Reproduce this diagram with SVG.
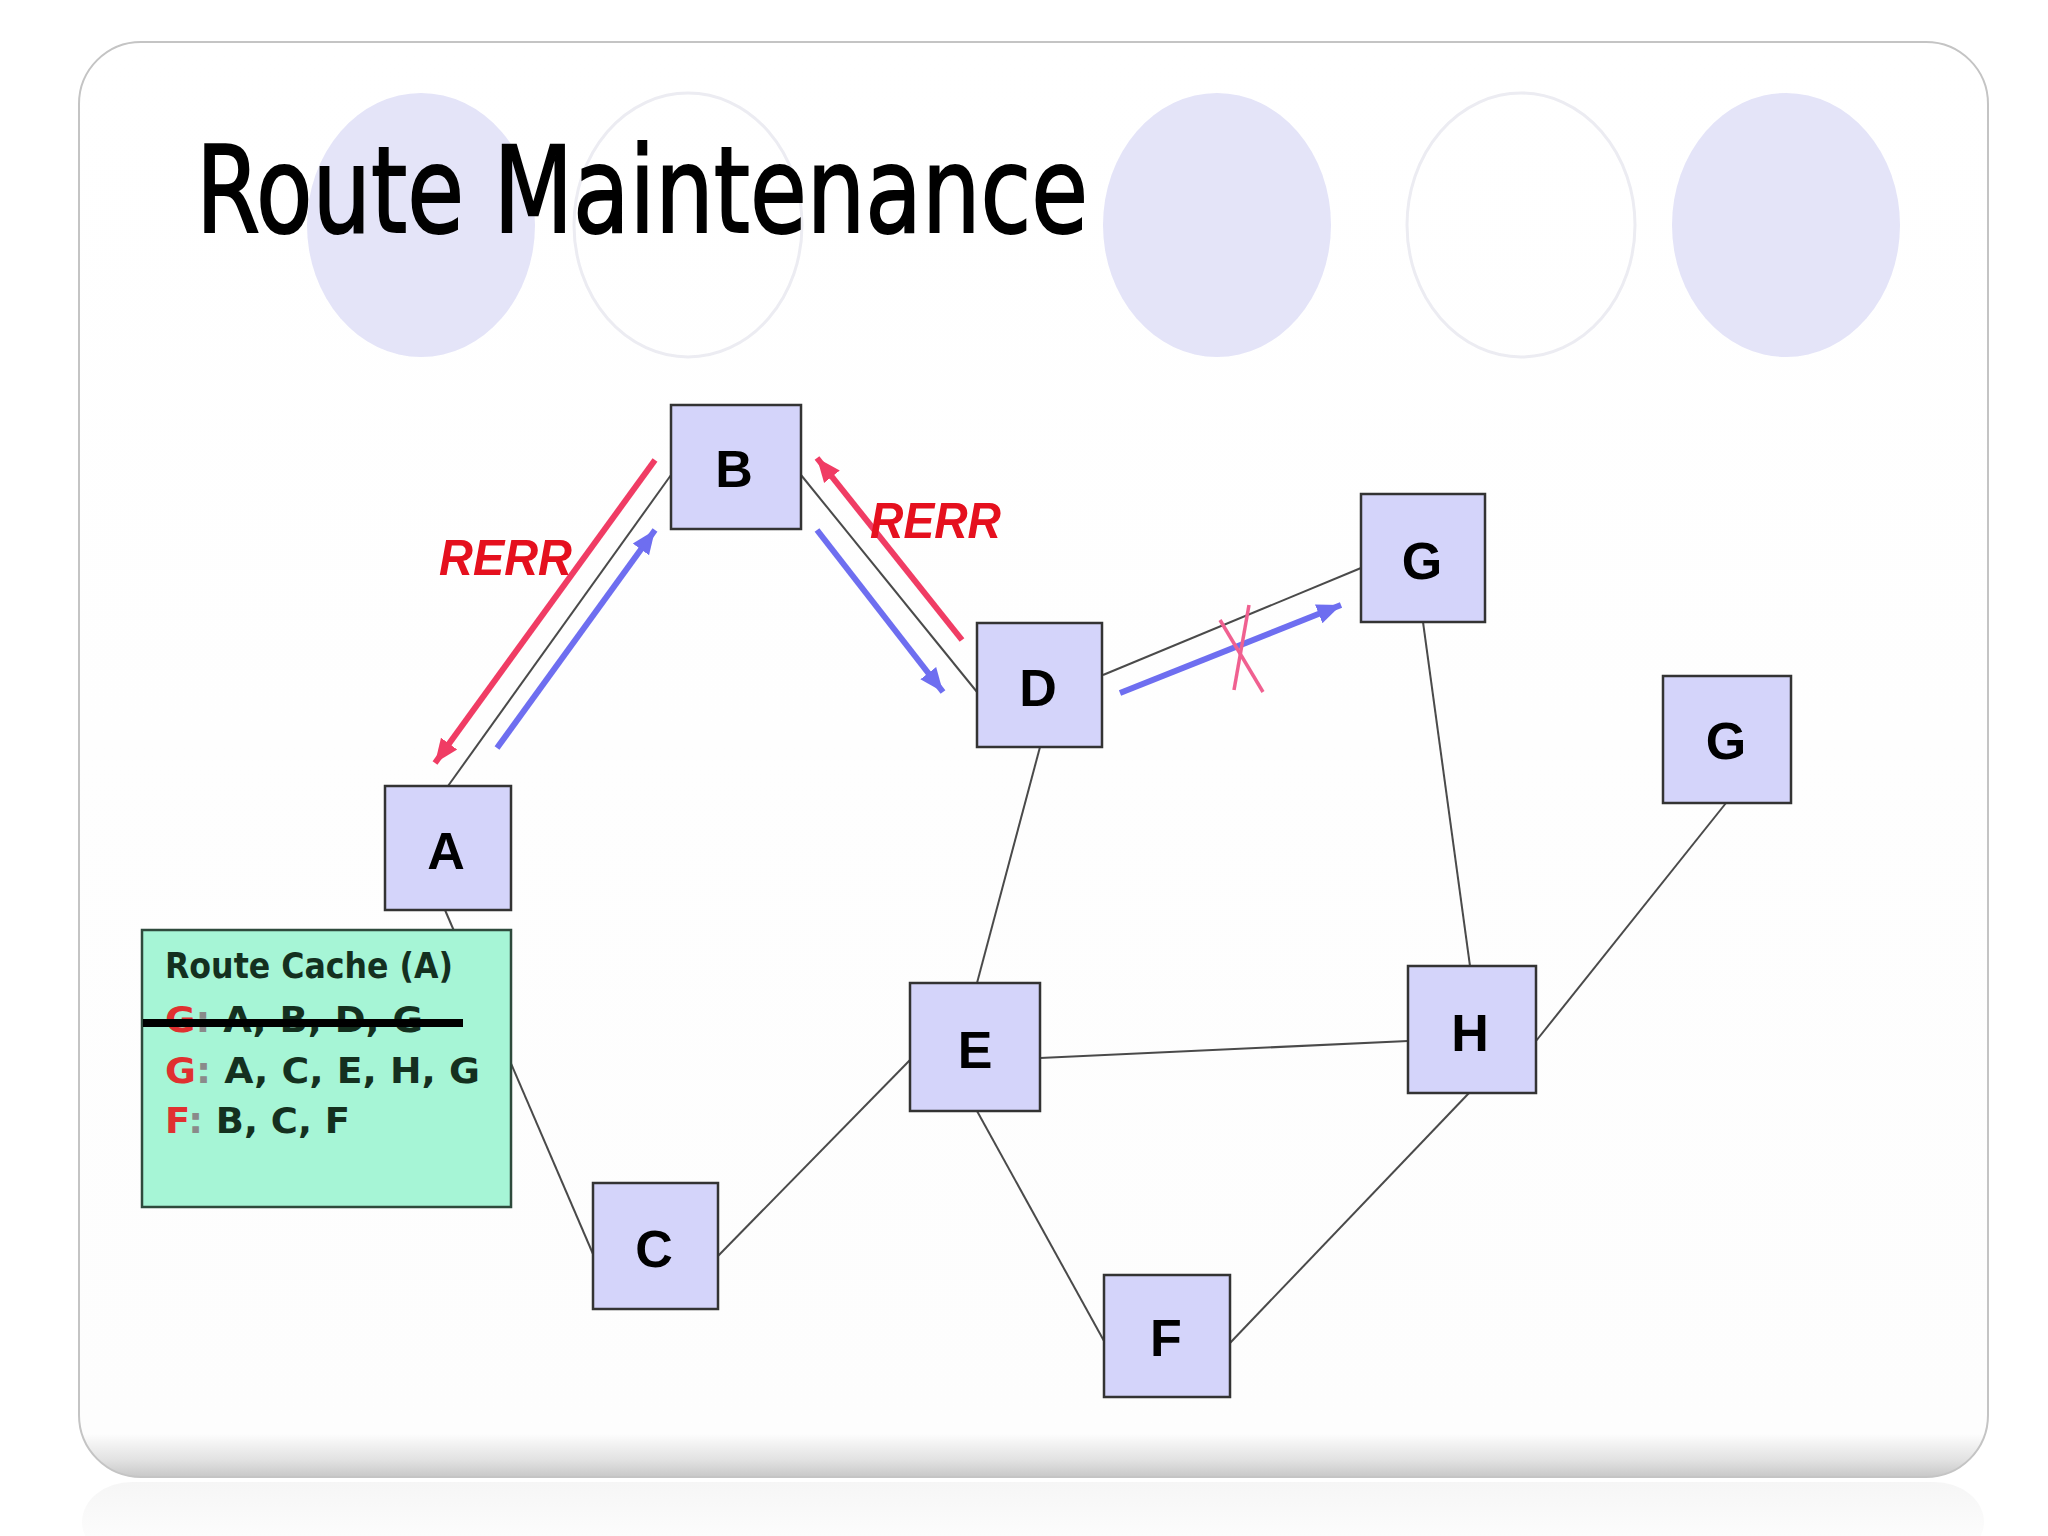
<svg xmlns="http://www.w3.org/2000/svg" width="2048" height="1536" viewBox="0 0 2048 1536">
<defs>
<linearGradient id="frameG" x1="0" y1="0" x2="0" y2="1">
<stop offset="0" stop-color="#ffffff"/>
<stop offset="0.97" stop-color="#fdfdfd"/>
<stop offset="0.988" stop-color="#e2e2e2"/>
<stop offset="1" stop-color="#c8c8c8"/>
</linearGradient>
<linearGradient id="reflG" x1="0" y1="0" x2="0" y2="1">
<stop offset="0" stop-color="#f2f2f2"/>
<stop offset="1" stop-color="#ffffff"/>
</linearGradient>
<marker id="redHead" markerUnits="userSpaceOnUse" markerWidth="28" markerHeight="24" refX="24" refY="12" orient="auto">
<path d="M0,2 L24,12 L0,22 z" fill="#f03c64"/>
</marker>
<marker id="blueHead" markerUnits="userSpaceOnUse" markerWidth="28" markerHeight="24" refX="24" refY="12" orient="auto">
<path d="M0,2 L24,12 L0,22 z" fill="#6e6ef0"/>
</marker>
<style>
.edge{stroke:#4a4a4a;stroke-width:2;fill:none}
.node rect{fill:#d4d4fa;stroke:#333;stroke-width:2.5}
.lbl{font-family:"Liberation Sans",Arial,sans-serif;font-weight:bold;font-size:52px;fill:#000;text-anchor:middle}
.red{stroke:#f03c64;stroke-width:6;fill:none}
.blue{stroke:#6e6ef0;stroke-width:6;fill:none}
.rerr{font-family:"Liberation Sans",Arial,sans-serif;font-weight:bold;font-style:italic;font-size:50px;fill:#e5101e}
.cache{font-family:"DejaVu Sans","Liberation Sans",sans-serif;font-weight:bold;font-size:36px;fill:#14301f}
.cr{fill:#e03030}
.cc{fill:#8a8a8a}
</style>
</defs>
<rect width="2048" height="1536" fill="#ffffff"/>
<rect x="82" y="1482" width="1902" height="80" rx="50" fill="url(#reflG)" opacity="0.7"/>
<rect x="79" y="42" width="1909" height="1435" rx="62" fill="url(#frameG)" stroke="#c4c4c4" stroke-width="2"/>
<g id="decor">
<ellipse cx="421" cy="225" rx="114" ry="132" fill="#e4e4f8"/>
<ellipse cx="688" cy="225" rx="114" ry="132" fill="none" stroke="#ececf2" stroke-width="3"/>
<ellipse cx="1217" cy="225" rx="114" ry="132" fill="#e4e4f8"/>
<ellipse cx="1521" cy="225" rx="114" ry="132" fill="none" stroke="#ececf2" stroke-width="3"/>
<ellipse cx="1786" cy="225" rx="114" ry="132" fill="#e4e4f8"/>
</g>
<text id="title" x="196" y="232" font-family="DejaVu Sans, Liberation Sans, sans-serif" font-size="120" fill="#000" stroke="#000" stroke-width="2" textLength="892" lengthAdjust="spacingAndGlyphs">Route Maintenance</text>
<g id="connectors">
<line class="edge" x1="448" y1="786" x2="671" y2="475"/>
<line class="edge" x1="801" y1="475" x2="977" y2="692"/>
<line class="edge" x1="1103" y1="675" x2="1361" y2="568"/>
<line class="edge" x1="1040" y1="747" x2="977" y2="983"/>
<line class="edge" x1="1423" y1="622" x2="1470" y2="966"/>
<line class="edge" x1="1726" y1="803" x2="1536" y2="1041"/>
<line class="edge" x1="1040" y1="1058" x2="1408" y2="1041"/>
<line class="edge" x1="977" y1="1111" x2="1104" y2="1341"/>
<line class="edge" x1="1469" y1="1093" x2="1230" y2="1343"/>
<line class="edge" x1="718" y1="1256" x2="910" y2="1060"/>
<line class="edge" x1="445" y1="910" x2="593" y2="1254"/>
<line class="red" x1="655" y1="460" x2="435" y2="763" marker-end="url(#redHead)"/>
<line class="blue" x1="497" y1="748" x2="655" y2="530" marker-end="url(#blueHead)"/>
<line class="red" x1="962" y1="640" x2="817" y2="458" marker-end="url(#redHead)"/>
<line class="blue" x1="817" y1="530" x2="943" y2="692" marker-end="url(#blueHead)"/>
<line class="blue" x1="1120" y1="693" x2="1341" y2="605" marker-end="url(#blueHead)"/>
<line x1="1220" y1="620" x2="1263" y2="692" stroke="#f06090" stroke-width="3.5"/>
<line x1="1249" y1="605" x2="1234" y2="690" stroke="#f06090" stroke-width="3.5"/>
</g>
<text class="rerr" x="439" y="575" textLength="133" lengthAdjust="spacingAndGlyphs">RERR</text>
<text class="rerr" x="870" y="538" textLength="131" lengthAdjust="spacingAndGlyphs">RERR</text>
<g id="nodeB" class="node"><rect x="671" y="405" width="130" height="124"/><text class="lbl" x="734" y="487">B</text></g>
<g id="nodeD" class="node"><rect x="977" y="623" width="125" height="124"/><text class="lbl" x="1038" y="706">D</text></g>
<g id="nodeG1" class="node"><rect x="1361" y="494" width="124" height="128"/><text class="lbl" x="1422" y="579">G</text></g>
<g id="nodeG2" class="node"><rect x="1663" y="676" width="128" height="127"/><text class="lbl" x="1726" y="759">G</text></g>
<g id="nodeA" class="node"><rect x="385" y="786" width="126" height="124"/><text class="lbl" x="446" y="869">A</text></g>
<g id="nodeE" class="node"><rect x="910" y="983" width="130" height="128"/><text class="lbl" x="975" y="1068">E</text></g>
<g id="nodeH" class="node"><rect x="1408" y="966" width="128" height="127"/><text class="lbl" x="1470" y="1051">H</text></g>
<g id="nodeC" class="node"><rect x="593" y="1183" width="125" height="126"/><text class="lbl" x="654" y="1267">C</text></g>
<g id="nodeF" class="node"><rect x="1104" y="1275" width="126" height="122"/><text class="lbl" x="1166" y="1356">F</text></g>
<g id="cache">
<rect x="142" y="930" width="369" height="277" fill="#a6f5d6" stroke="#2e4a3c" stroke-width="2.5"/>
<text class="cache" x="165" y="978" textLength="288" lengthAdjust="spacingAndGlyphs">Route Cache (A)</text>
<text class="cache" x="165" y="1032" textLength="258" lengthAdjust="spacingAndGlyphs"><tspan class="cr">G</tspan><tspan class="cc">:</tspan> A, B, D, G</text>
<line x1="143" y1="1023" x2="463" y2="1023" stroke="#000" stroke-width="8"/>
<text class="cache" x="165" y="1083" textLength="315" lengthAdjust="spacingAndGlyphs"><tspan class="cr">G</tspan><tspan class="cc">:</tspan> A, C, E, H, G</text>
<text class="cache" x="165" y="1133" textLength="185" lengthAdjust="spacingAndGlyphs"><tspan class="cr">F</tspan><tspan class="cc">:</tspan> B, C, F</text>
</g>
</svg>
